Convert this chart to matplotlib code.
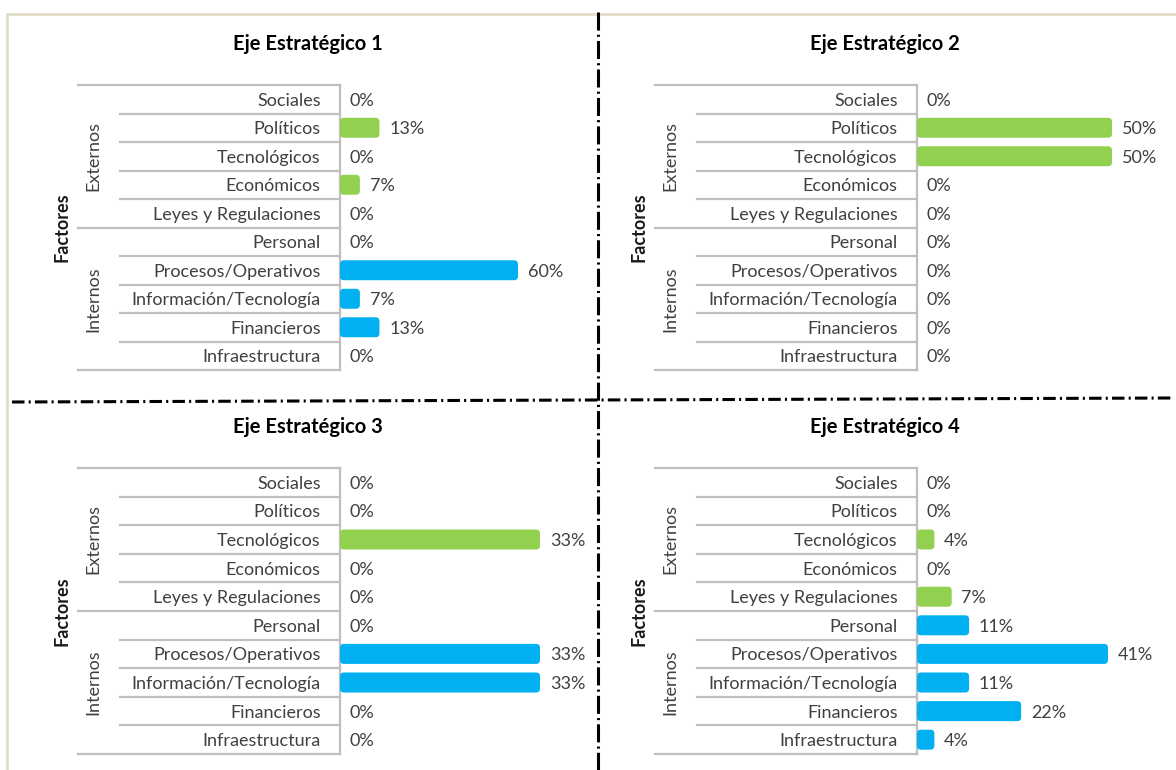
import matplotlib
matplotlib.use("Agg")
import matplotlib.pyplot as plt
from matplotlib.patches import FancyBboxPatch
from matplotlib.lines import Line2D

plt.rcParams['font.family'] = ['Lato', 'DejaVu Sans']
plt.rcParams['lines.scale_dashes'] = False

categories = ["Sociales", "Políticos", "Tecnológicos", "Económicos", "Leyes y Regulaciones",
              "Personal", "Procesos/Operativos", "Información/Tecnología", "Financieros", "Infraestructura"]
groups = ["Externos", "Internos"]
titles = ["Eje Estratégico 1", "Eje Estratégico 2", "Eje Estratégico 3", "Eje Estratégico 4"]

eje1 = [0, 13.3, 0, 6.7, 0, 0, 60.0, 6.7, 13.3, 0]
eje2 = [0, 50.0, 50.0, 0, 0, 0, 0, 0, 0, 0]
eje3 = [0, 0, 33.3, 0, 0, 0, 33.3, 33.3, 0, 0]
eje4 = [0, 0, 3.7, 0, 7.4, 11.1, 40.7, 11.1, 22.2, 3.7]
series = [eje1, eje2, eje3, eje4]

GREEN = "#92D050"
BLUE = "#00B0F0"
GRID = "#BFBFBF"
TXT = "#404040"
FS = 13

W, H = 1176, 770
fig = plt.figure(figsize=(W / 100, H / 100), dpi=100)

def fx(x):
    return x / W

def fy(y):
    return 1 - y / H

# panel layout: (spine x px, top px, bottom px, pixel end of longest bar)
layout = [(340, 85, 370, 518), (917, 85, 370, 1112), (340, 468, 754, 540), (917, 468, 754, 1108)]
AXW = 240

for vals, title, (sx, top, bot, end) in zip(series, titles, layout):
    ax = fig.add_axes([fx(sx), fy(bot), AXW / W, (bot - top) / H])
    vmax = max(vals)
    xmax = vmax * AXW / (end - sx)
    ax.set_xlim(0, xmax)
    n = len(categories)
    ax.set_ylim(n - 0.5, -0.5)
    ppx = xmax / AXW
    ppy = n / (bot - top)
    r = 4 * ppx
    for i, v in enumerate(vals):
        col = GREEN if i < 5 else BLUE
        if v > 0:
            h = 0.7
            p = FancyBboxPatch((0, i - h / 2), v, h,
                               boxstyle=f"round,pad=0,rounding_size={r}",
                               mutation_aspect=ppy / ppx,
                               fc=col, ec="none", zorder=3)
            ax.add_patch(p)
        ax.annotate(f"{v:.0f}%", xy=(v, i), xytext=(7, 0),
                    textcoords="offset points", va="center_baseline", ha="left",
                    fontsize=FS, color=TXT)
    ax.set_yticks(range(n))
    ax.set_yticklabels(categories, fontsize=FS, color=TXT)
    ax.tick_params(axis="y", length=0, pad=14)
    ax.set_xticks([])
    for s in ["top", "right", "bottom"]:
        ax.spines[s].set_visible(False)
    ax.spines["left"].set_color(GRID)
    ax.spines["left"].set_linewidth(1.6)
    trans = ax.get_yaxis_transform()
    for k in range(n + 1):
        left_px = 78 if k in (0, 5, 10) else 120
        xa = (left_px - 340) / AXW
        ax.add_line(Line2D([xa, 0], [k - 0.5, k - 0.5], transform=trans,
                           color=GRID, lw=1.6, clip_on=False))
    ax.text((93 - 340) / AXW, 2, groups[0], transform=trans, rotation=90,
            ha="center", va="center", fontsize=FS, color=TXT)
    ax.text((93 - 340) / AXW, 7, groups[1], transform=trans, rotation=90,
            ha="center", va="center", fontsize=FS, color=TXT)
    ax.text((62 - 340) / AXW, 4.5, "Factores", transform=trans, rotation=90,
            ha="center", va="center", fontsize=FS, fontweight="bold", color="#1a1a1a")
    fig.text(fx(sx - 32), fy(top - 41), title, ha="center", va="center",
             fontsize=14.5, fontweight="bold", color="black")

# frame lines (beige)
fig.add_artist(Line2D([fx(7), fx(W)], [fy(14), fy(14)], color="#E2DDC8", lw=2))
fig.add_artist(Line2D([fx(7), fx(7)], [fy(14), fy(H)], color="#E2DDC8", lw=2))

# dash-dot dividers
fig.add_artist(Line2D([fx(598), fx(598)], [fy(12), fy(770)], color="black", lw=2.2,
                      linestyle=(0, (13, 3, 1.5, 3))))
fig.add_artist(Line2D([fx(12), fx(1172)], [fy(402), fy(398)], color="black", lw=2.2,
                      linestyle=(0, (9, 3, 1.5, 3))))

fig.savefig("out.png", dpi=100)
